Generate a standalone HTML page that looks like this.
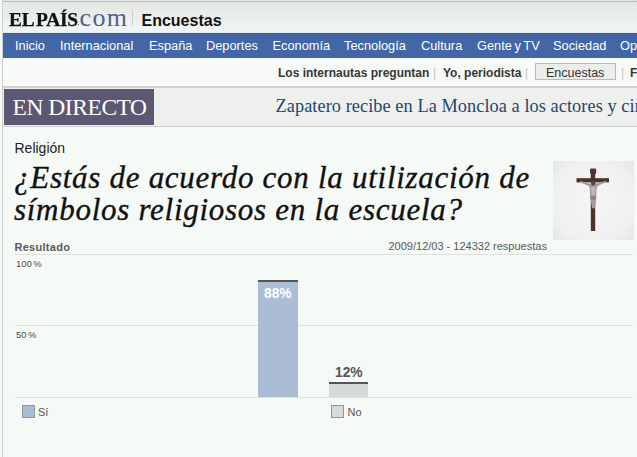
<!DOCTYPE html>
<html><head><meta charset="utf-8">
<style>
html,body{margin:0;padding:0;}
body{width:637px;height:457px;position:relative;overflow:hidden;background:#f5faf6;font-family:"Liberation Sans",sans-serif;}
.a{position:absolute;white-space:nowrap;}
#lb{left:2px;top:0;width:1px;height:457px;background:#cdd1cd;}
#hdr{left:3px;top:0;width:634px;height:33px;
 background:
  repeating-linear-gradient(to bottom, rgba(0,20,10,0.025) 0px, rgba(0,20,10,0.025) 1px, rgba(255,255,255,0) 1px, rgba(255,255,255,0) 2px),
  linear-gradient(to bottom,#e6ebe8 0px,#e8ece9 3px,#edf0ee 18px,#f3f6f5 25px,#f2f7fa 29px,#eef5fa 32px);}
#topline{left:3px;top:1px;width:634px;height:1px;background:#b9bfbb;}
.logo{top:10.4px;font:bold 19px/19px "Liberation Serif",serif;color:#111;letter-spacing:-0.25px;transform:scaleX(1.02);transform-origin:0 0;-webkit-text-stroke:0.25px #111;}
#dot{left:77.5px;top:23.5px;width:1.6px;height:1.6px;background:#6a7590;}
#com{left:79.5px;top:4.5px;font:26px/26px "Liberation Serif",serif;color:#50608a;letter-spacing:1.4px;}
#sep{left:132px;top:11px;width:0;height:15px;border-left:1px dotted #b0b0b0;}
#enc{left:141.5px;top:13px;font:bold 16px/16px "Liberation Sans",sans-serif;color:#111;}
#nav{left:3px;top:33px;width:634px;height:25px;background:#4266a6;box-shadow:inset 0 1px 0 #3b5b94;}
.n{top:37.5px;font:12.8px/16px "Liberation Sans",sans-serif;color:#fff;}
#sub{left:3px;top:58px;width:634px;height:28px;background:#f7faf7;}
.s{top:64.6px;font:bold 12px/16px "Liberation Sans",sans-serif;color:#353835;}
.bar{top:65px;font:12px/16px "Liberation Sans",sans-serif;color:#c2c4c2;}
#encbox{left:535px;top:63px;width:79px;height:15px;border:1px solid #b8bab8;background:#eceeec;}
#enct{left:546px;top:64.5px;font:12.5px/16px "Liberation Sans",sans-serif;color:#333;}
#l1{left:3px;top:86px;width:634px;height:2px;background:#d0d3d0;}
#band{left:3px;top:88px;width:634px;height:38px;background:#eef0ee;}
#l2{left:3px;top:126px;width:634px;height:1px;background:#c9ccc9;}
#dir{left:4px;top:89px;width:150px;height:36px;background:#5c5772;}
#dirt{left:12.5px;top:95.5px;font:23.5px/23px "Liberation Serif",serif;color:#fff;letter-spacing:-0.45px;}
#zap{left:275.5px;top:96.8px;font:18.3px/18px "Liberation Serif",serif;color:#24466e;letter-spacing:0.07px;}
#cat{left:14.5px;top:140px;font:14px/16px "Liberation Sans",sans-serif;color:#222;}
.t{left:14px;font:italic 31px/30px "Liberation Serif",serif;color:#111;letter-spacing:0.72px;-webkit-text-stroke:0.35px #111;}
#res{left:14.5px;top:239.5px;font:bold 11px/14px "Liberation Sans",sans-serif;color:#575b5a;letter-spacing:0.28px;}
#date{left:388.5px;top:239px;font:11px/14px "Liberation Sans",sans-serif;color:#555a5c;}
.gl{left:15px;width:618px;height:1px;background:#dde2dd;}
.pc{font:9.4px/10px "Liberation Sans",sans-serif;color:#4a4a4a;letter-spacing:0.15px;word-spacing:-1.5px;}
#b1{left:258px;top:280px;width:40px;height:117px;background:#aabdd4;}
#b1t{left:258px;top:280px;width:40px;height:2px;background:#555;}
#b2{left:329px;top:382px;width:39px;height:15px;background:#d6dad6;}
#b2t{left:329px;top:382px;width:39px;height:2px;background:#555;}
.pv{font:bold 13.8px/14px "Liberation Sans",sans-serif;}
.lg{width:11px;height:11px;border:1px solid #8f959b;}
.lt{font:11px/14px "Liberation Sans",sans-serif;color:#555;}
</style></head><body>
<div class="a" id="hdr"></div>
<div class="a" id="topline"></div>
<div class="a logo" style="left:8.6px">EL</div><div class="a logo" style="left:35.6px">PAÍS</div>
<div class="a" id="dot"></div><div class="a" id="com">com</div>
<div class="a" id="sep"></div>
<div class="a" id="enc">Encuestas</div>
<div class="a" id="nav"></div>
<div class="a n" style="left:15px">Inicio</div>
<div class="a n" style="left:60px">Internacional</div>
<div class="a n" style="left:149px">España</div>
<div class="a n" style="left:206px">Deportes</div>
<div class="a n" style="left:272.5px">Economía</div>
<div class="a n" style="left:344px">Tecnología</div>
<div class="a n" style="left:421px">Cultura</div>
<div class="a n" style="left:477px;word-spacing:-0.9px">Gente y TV</div>
<div class="a n" style="left:553px">Sociedad</div>
<div class="a n" style="left:620px">Opinión</div>
<div class="a" id="sub"></div>
<div class="a s" style="left:278px">Los internautas preguntan</div>
<div class="a bar" style="left:433px">|</div>
<div class="a s" style="left:443px">Yo, periodista</div>
<div class="a bar" style="left:525px">|</div>
<div class="a" id="encbox"></div>
<div class="a" id="enct">Encuestas</div>
<div class="a bar" style="left:621px">|</div>
<div class="a s" style="left:630px">Fotos</div>
<div class="a" id="l1"></div>
<div class="a" id="band"></div>
<div class="a" id="l2"></div>
<div class="a" id="dir"></div>
<div class="a" id="dirt">EN DIRECTO</div>
<div class="a" id="zap">Zapatero recibe en La Moncloa a los actores y cine</div>
<div class="a" id="cat">Religión</div>
<div class="a t" style="top:162.5px">¿Estás de acuerdo con la utilización de</div>
<div class="a t" style="top:195.2px">símbolos religiosos en la escuela?</div>
<svg class="a" style="left:553px;top:161px" width="81" height="79" viewBox="0 0 81 79">
 <defs><filter id="bl" x="-10%" y="-10%" width="120%" height="120%"><feGaussianBlur stdDeviation="0.5"/></filter></defs>
 <radialGradient id="rg" cx="0.5" cy="0.5" r="0.72"><stop offset="0" stop-color="#f6f6f6"/><stop offset="0.7" stop-color="#f0f0f0"/><stop offset="1" stop-color="#e5e5e5"/></radialGradient>
 <rect width="81" height="79" fill="url(#rg)"/>
 <g filter="url(#bl)">
 <rect x="37.8" y="8" width="4.4" height="62" fill="#4d302b"/>
 <rect x="37" y="7.5" width="6.2" height="5.5" rx="1.2" fill="#4f3530"/>
 <rect x="23.5" y="17.2" width="32.5" height="4.2" fill="#4d302b"/>
 <path d="M27 19.8 L37 22.8 L40 22 L43 22.8 L53 19.8 L53 21.3 L44.5 25 L43.5 28 L43.3 35 L43 40 L42 46 L40.5 48 L39 46 L38 40 L37 35 L36.8 28 L35.8 25 L27 21.3 Z" fill="#a89a98"/>
 <path d="M38.2 26 L42.2 26 L41.8 34 L38.6 34 Z" fill="#c4b8b6"/>
 <circle cx="40.2" cy="22.3" r="2.2" fill="#5a4642"/>
 <path d="M37.2 35.5 L43.3 35.5 L42.8 38.5 L37.7 38.5 Z" fill="#8f807d"/>
 <path d="M38.4 39 L42 39 L41.5 47 L39 47 Z" fill="#a99d9b"/>
 </g>
</svg>
<div class="a" id="res">Resultado</div>
<div class="a" id="date">2009/12/03 - 124332 respuestas</div>
<div class="a gl" style="top:254px"></div>
<div class="a gl" style="top:325px"></div>
<div class="a gl" style="top:397px"></div>
<div class="a pc" style="left:16px;top:258.5px">100 %</div>
<div class="a pc" style="left:16px;top:329.5px">50 %</div>
<div class="a" id="b1"></div>
<div class="a" id="b1t"></div>
<div class="a pv" style="left:264px;top:287px;color:#fff">88%</div>
<div class="a" id="b2"></div>
<div class="a" id="b2t"></div>
<div class="a pv" style="left:335px;top:365.5px;color:#555">12%</div>
<div class="a lg" style="left:22px;top:405px;background:#aabdd4"></div>
<div class="a lt" style="left:38px;top:405px">Sí</div>
<div class="a lg" style="left:331px;top:405px;background:#d8dcd8"></div>
<div class="a lt" style="left:347.5px;top:405px">No</div>
<div class="a" id="lb"></div>
</body></html>
